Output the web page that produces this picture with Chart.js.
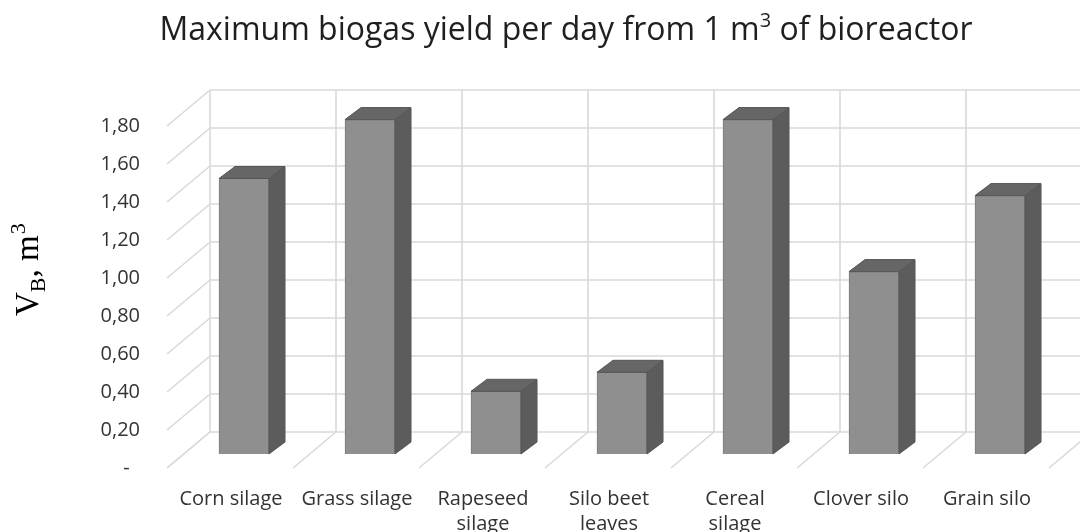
<!DOCTYPE html>
<html lang="en">
<head>
<meta charset="UTF-8" />
<title>Maximum biogas yield per day</title>
<script src="https://cdn.jsdelivr.net/npm/chart.js"></script>
<style>
  html, body { margin: 0; padding: 0; background: #fff; }
  #wrap { width: 1080px; height: 532px; }
</style>
</head>
<body>
<div id="wrap"><canvas id="biogasChart"></canvas></div>
<script>
  // data
  const categories = [["Corn silage"], ["Grass silage"], ["Rapeseed", "silage"], ["Silo beet", "leaves"], ["Cereal", "silage"], ["Clover silo"], ["Grain silo"]];
  const yieldValues = [1.45, 1.76, 0.33, 0.43, 1.76, 0.96, 1.36];
  const yTicks = [0, 0.2, 0.4, 0.6, 0.8, 1.0, 1.2, 1.4, 1.6, 1.8];
  const yTickLabels = ["-  ", "0,20", "0,40", "0,60", "0,80", "1,00", "1,20", "1,40", "1,60", "1,80"];

  // fake 3d offsets (px) relative to the bar plane
  const BACK = { dx: 29, dy: -22 };
  const FRONT = { dx: -14, dy: 14 };
  const DEPTH = { dx: 16, dy: -12 };

  function line(ctx, x1, y1, x2, y2) {
    ctx.beginPath();
    ctx.moveTo(x1, y1);
    ctx.lineTo(x2, y2);
    ctx.stroke();
  }

  const fake3d = {
    id: "fake3d",
    beforeDatasetsDraw(chart) {
      const { ctx, chartArea: a, scales: { y } } = chart;
      const step = (a.right - a.left) / categories.length;
      ctx.save();
      ctx.strokeStyle = "#d9d9d9";
      ctx.lineWidth = 1.6;
      // side wall + back wall gridlines
      yTicks.forEach(v => {
        const py = y.getPixelForValue(v);
        line(ctx, a.left + FRONT.dx, py + FRONT.dy, a.left + BACK.dx, py + BACK.dy);
        line(ctx, a.left + BACK.dx, py + BACK.dy, a.right + BACK.dx, py + BACK.dy);
      });
      // back wall verticals + floor diagonals
      for (let i = 0; i <= categories.length; i++) {
        const bx = a.left + i * step;
        line(ctx, bx + BACK.dx, a.top + BACK.dy, bx + BACK.dx, a.bottom + BACK.dy);
        line(ctx, bx + FRONT.dx, a.bottom + FRONT.dy, bx + BACK.dx, a.bottom + BACK.dy);
      }
      ctx.restore();
    },
    afterDatasetsDraw(chart) {
      const { ctx } = chart;
      const meta = chart.getDatasetMeta(0);
      ctx.save();
      ctx.lineWidth = 1;
      meta.data.forEach(bar => {
        const { x, y, base, width } = bar.getProps(["x", "y", "base", "width"], true);
        const l = x - width / 2, r = x + width / 2;
        // right side
        ctx.fillStyle = "#5c5c5c";
        ctx.strokeStyle = "#555";
        ctx.beginPath();
        ctx.moveTo(r, y);
        ctx.lineTo(r + DEPTH.dx, y + DEPTH.dy);
        ctx.lineTo(r + DEPTH.dx, base + DEPTH.dy);
        ctx.lineTo(r, base);
        ctx.closePath();
        ctx.fill();
        ctx.stroke();
        // top
        ctx.fillStyle = "#666666";
        ctx.beginPath();
        ctx.moveTo(l, y);
        ctx.lineTo(l + DEPTH.dx, y + DEPTH.dy);
        ctx.lineTo(r + DEPTH.dx, y + DEPTH.dy);
        ctx.lineTo(r, y);
        ctx.closePath();
        ctx.fill();
        ctx.stroke();
      });
      ctx.restore();
    },
    afterDraw(chart) {
      const { ctx } = chart;
      ctx.save();
      // chart title with superscript
      ctx.fillStyle = "#1f1f1f";
      ctx.textBaseline = "alphabetic";
      const big = "32px 'Open Sans'", small = "20px 'Open Sans'";
      const p1 = "Maximum biogas yield per day from 1 m", p2 = "3", p3 = " of bioreactor";
      ctx.font = big;
      const w1 = ctx.measureText(p1).width, w3 = ctx.measureText(p3).width;
      ctx.font = small;
      const w2 = ctx.measureText(p2).width;
      let tx = 566 - (w1 + w2 + w3) / 2;
      ctx.font = big; ctx.fillText(p1, tx, 40); tx += w1;
      ctx.font = small; ctx.fillText(p2, tx, 27); tx += w2;
      ctx.font = big; ctx.fillText(p3, tx, 40);

      // y axis title: V_B, m^3
      ctx.translate(38, 316);
      ctx.rotate(-Math.PI / 2);
      ctx.fillStyle = "#000";
      const serif = "33px 'Liberation Serif'", serifSmall = "22px 'Liberation Serif'";
      let ox = 0;
      ctx.font = serif; ctx.fillText("V", ox, 0); ox += ctx.measureText("V").width;
      ctx.font = serifSmall; ctx.fillText("B", ox, 7); ox += ctx.measureText("B").width;
      ctx.font = serif; ctx.fillText(", m", ox, 0); ox += ctx.measureText(", m").width;
      ctx.font = serifSmall; ctx.fillText("3", ox + 1, -13);
      ctx.restore();
    }
  };

  const ctx = document.getElementById("biogasChart").getContext("2d");
  const biogasChart = new Chart(ctx, {
    type: "bar",
    data: {
      labels: categories,
      datasets: [{
        data: yieldValues,
        backgroundColor: "#8f8f8f",
        borderColor: "#7c7c7c",
        borderWidth: 1,
        barThickness: 50
      }]
    },
    options: {
      responsive: true,
      maintainAspectRatio: false,
      animation: false,
      layout: { padding: { top: 112, right: 17, left: 0, bottom: 0 } },
      plugins: { legend: { display: false }, tooltip: { enabled: false } },
      scales: {
        x: {
          grid: { display: false },
          border: { display: false },
          afterFit(scale) { scale.height = 78; },
          ticks: {
            color: "#333",
            font: { family: "'Open Sans'", size: 20, lineHeight: 1.25 },
            padding: 25,
            labelOffset: -13,
            maxRotation: 0,
            autoSkip: false
          }
        },
        y: {
          min: 0,
          max: 1.8,
          grid: { display: false },
          border: { display: false },
          afterFit(scale) { scale.width = 181; },
          afterBuildTicks(scale) { scale.ticks = yTicks.map(v => ({ value: v })); },
          ticks: {
            color: "#333",
            font: { family: "'Open Sans'", size: 20 },
            padding: 33,
            labelOffset: 14,
            callback: (v, i) => yTickLabels[i]
          }
        }
      }
    },
    plugins: [fake3d]
  });
</script>
</body>
</html>
